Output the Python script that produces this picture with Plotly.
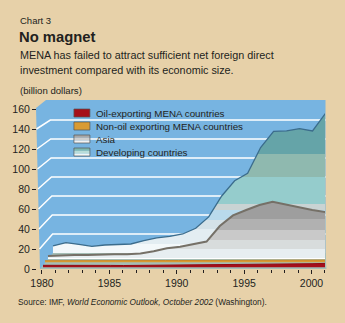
import plotly.graph_objects as go

# ---------------- data ----------------
years = list(range(1980, 2002))
developing = [7.4, 11, 9, 7, 8.4, 9.3, 9.5, 13, 16, 17.4, 20, 26, 38, 60, 76, 84, 111, 128, 128.5, 131, 128.5, 147]
asia = [3, 3.6, 4, 4, 4.6, 5, 5, 5.7, 8, 11, 12.7, 15, 18, 34, 45, 50.5, 55.7, 59, 56, 53, 50.5, 48.5]
nonoil_mena = [1.6, 1.7, 1.8, 1.8, 1.7, 1.6, 1.6, 1.7, 1.7, 1.8, 1.8, 1.9, 1.9, 2.0, 2.0, 2.0, 2.1, 2.1, 2.1, 2.2, 2.2, 2.3]
oil_mena = [2.0, 2.1, 2.2, 2.2, 2.0, 1.9, 1.8, 1.9, 2.0, 2.0, 1.9, 2.1, 2.3, 2.6, 2.7, 2.9, 3.0, 3.2, 3.3, 3.4, 3.6, 3.9]
y_ticks = [0, 20, 40, 60, 80, 100, 120, 140, 160]
x_labels = [1980, 1985, 1990, 1995, 2000]
series_names = ["Oil-exporting MENA countries", "Non-oil exporting MENA countries", "Asia", "Developing countries"]

# ---------------- geometry ----------------
W, H = 345, 323
L, R, T, B = 36, 19.5, 99, 54
PW, PH = W - L - R, H - T - B
FX0, FX1 = 42, 325.5        # pixels of 1980 / 2001 on the front axis
FY0, FK = 269, 1.0          # pixel of 0 on the front axis, px per unit

def px(x):
    return (x - L) / PW

def py(y):
    return (H - B - y) / PH

def xrange_for(X0, X1):
    s = (X1 - X0) / 21.0
    a = 1980 - (X0 - FX0) / s
    return [a, a + (FX1 - FX0) / s]

def yrange_for(Y0, k):
    a = (Y0 - FY0) / k
    return [a, a + PH / k]

FONT = "Liberation Sans, Arial, Helvetica, sans-serif"
INK = "#231F20"
BG = "#E7D1A9"
WALL = "#77B4E1"

def step_scale(bands, top):
    cs = []
    for i, (lo, c) in enumerate(bands):
        hi = bands[i + 1][0] if i + 1 < len(bands) else top
        cs.append([lo / top, c])
        cs.append([min(hi / top, 1.0) - (1e-4 if i + 1 < len(bands) else 0), c])
    cs[-1][0] = 1.0
    return cs

dev_scale = step_scale([(0, "#F3F8FA"), (10, "#E3EDF2"), (25, "#D5E2E8"), (35, "#B9DAEC"),
                        (45, "#C9D3D3"), (52, "#95CCCC"), (80, "#8FB9AF"), (104, "#65A4A8")], 160)
asia_scale = step_scale([(0, "#FFFFFF"), (1.5, "#E7EEF1"), (10, "#D8DCDC"), (19.6, "#C9C9C9"),
                         (30, "#B1B1B1"), (41, "#9E9E9E")], 70)

fig = go.Figure()

# invisible trace on the main (front) axes
fig.add_trace(go.Scatter(x=[1980, 2001], y=[0, 0], mode="lines", line=dict(width=0),
                         hoverinfo="skip", showlegend=False))

fig.add_trace(go.Scatter(
    x=years, y=developing, xaxis="x2", yaxis="y2", name=series_names[3], mode="lines",
    fill="tozeroy", fillgradient=dict(type="vertical", colorscale=dev_scale, start=0, stop=160),
    line=dict(color="#3B6C8C", width=1.3), showlegend=False))
fig.add_trace(go.Scatter(
    x=years, y=asia, xaxis="x3", yaxis="y3", name=series_names[2], mode="lines",
    fill="tozeroy", fillgradient=dict(type="vertical", colorscale=asia_scale, start=0, stop=70),
    line=dict(color="#757067", width=2), showlegend=False))
fig.add_trace(go.Scatter(
    x=years, y=nonoil_mena, xaxis="x4", yaxis="y4", name=series_names[1], mode="lines",
    fill="tozeroy", fillcolor="#D99B33", line=dict(color="#C98A2A", width=1), showlegend=False))
fig.add_trace(go.Scatter(
    x=years, y=oil_mena, xaxis="x5", yaxis="y5", name=series_names[0], mode="lines",
    fill="tozeroy", fillcolor="#A50F1A", line=dict(color="#900A14", width=1), showlegend=False))

planes = {
    2: (53, 326, 253, 0.95),
    3: (48, 326, 259, 0.97),
    4: (45, 326, 262.3, 0.98),
    5: (43, 326, 267.3, 1.0),
}

layout_axes = {}
for n, (X0, X1, Y0, k) in planes.items():
    layout_axes[f"xaxis{n}"] = dict(overlaying="x", range=xrange_for(X0, X1), visible=False,
                                    anchor=f"y{n}", fixedrange=True)
    layout_axes[f"yaxis{n}"] = dict(overlaying="y", range=yrange_for(Y0, k), visible=False,
                                    anchor=f"x{n}", fixedrange=True)

# ---------------- shapes: wall, floor, gridlines, legend ----------------
shapes = []
def poly(points, fill, line_color=None, width=0, layer="below"):
    d = "M " + " L ".join(f"{px(x):.5f},{py(y):.5f}" for x, y in points) + " Z"
    return dict(type="path", path=d, xref="paper", yref="paper", fillcolor=fill,
                line=dict(color=line_color or fill, width=width), layer=layer)

shapes.append(poly([(40, 269), (36, 108), (46, 100), (326, 100), (326, 269)], WALL))
shapes.append(poly([(40, 269), (327, 269), (326, 253), (53, 253)], "#A4BEB6"))
for v in y_ticks[1:-1]:
    fy = FY0 - v * FK
    bx = 53 - 3 * v / 160
    by = 253 - 0.95 * v
    x0 = 40 - 4 * v / 160
    d = f"M {px(x0):.5f},{py(fy):.5f} L {px(bx):.5f},{py(by):.5f} L {px(326):.5f},{py(by):.5f}"
    shapes.append(dict(type="path", path=d, xref="paper", yref="paper",
                       line=dict(color="white", width=1.5), layer="below"))

legend_rows = [113, 126, 139, 152]
swatches = [
    [("#A50F1A", 0, 1)],
    [("#D99B33", 0, 1)],
    [("#A8A8A8", 0, 0.35), ("#CFCFCF", 0.35, 0.7), ("#F2F2F2", 0.7, 1)],
    [("#7DB8B0", 0, 0.35), ("#B8DCD8", 0.35, 0.7), ("#EEF6F6", 0.7, 1)],
]
annotations = []
for yc, sw, name in zip(legend_rows, swatches, series_names):
    top, bot = yc - 4, yc + 4
    for c, f0, f1 in sw:
        shapes.append(poly([(74, top + f0 * 8), (90, top + f0 * 8), (90, top + f1 * 8), (74, top + f1 * 8)],
                           c, layer="above"))
    shapes.append(dict(type="rect", xref="paper", yref="paper", x0=px(74), x1=px(90), y0=py(bot), y1=py(top),
                       line=dict(color="#555555", width=0.7), fillcolor="rgba(0,0,0,0)", layer="above"))
    annotations.append(dict(text=name, x=px(94), y=py(yc), xref="paper", yref="paper",
                            xanchor="left", yanchor="middle", showarrow=False,
                            font=dict(size=9.8, color=INK, family=FONT)))

def text(t, x, y, size, **kw):
    annotations.append(dict(text=t, x=px(x), y=py(y), xref="paper", yref="paper",
                            xanchor="left", yanchor="middle", showarrow=False,
                            font=dict(size=size, color=INK, family=FONT), **kw))

text("Chart 3", 18, 20, 9.5)
text("<b>No magnet</b>", 17, 37, 14.8)
text("MENA has failed to attract sufficient net foreign direct", 18, 55, 10.8)
text("investment compared with its economic size.", 18, 70, 10.8)
text("(billion dollars)", 18, 90, 9.6)
text("Source: IMF, <i>World Economic Outlook, October 2002</i> (Washington).", 16, 302, 8.3)

fig.update_layout(
    width=W, height=H, margin=dict(l=L, r=R, t=T, b=B, pad=0),
    paper_bgcolor=BG, plot_bgcolor="rgba(0,0,0,0)", showlegend=False,
    xaxis=dict(domain=[(FX0 - L) / PW, 1], range=[1980, 2001], tickvals=x_labels,
               ticktext=[str(v) for v in x_labels], ticks="outside", ticklen=4, tickwidth=1,
               tickcolor=INK, showgrid=False, zeroline=False, showline=False, fixedrange=True,
               minor=dict(tickvals=years, ticks="outside", ticklen=3, tickcolor=INK, showgrid=False),
               tickfont=dict(size=10.5, color=INK, family=FONT)),
    yaxis=dict(range=[0, PH / FK], anchor="free", position=0, tickvals=y_ticks,
               ticks="outside", ticklen=4, tickwidth=1, tickcolor=INK, showgrid=False,
               zeroline=False, showline=False, fixedrange=True,
               tickfont=dict(size=10.5, color=INK, family=FONT)),
    shapes=shapes, annotations=annotations,
    **layout_axes,
)

fig.write_html("out.html")
